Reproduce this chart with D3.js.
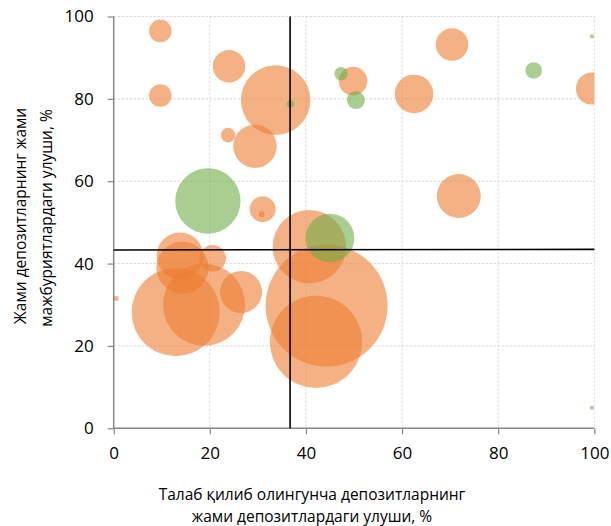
<!DOCTYPE html>
<html><head><meta charset="utf-8">
<script src="https://cdn.jsdelivr.net/npm/d3@7/dist/d3.min.js"></script>
<style>
body{margin:0;background:#fff;}
text{font-family:"Open Sans","Noto Sans",sans-serif;fill:#000;}
</style></head>
<body><svg id="c" width="611" height="526"></svg>
<script>
// Orange series
const orangeX = [9.7, 24.0, 9.7, 33.7, 23.8, 29.4, 31.0, 30.8, 49.8, 62.5, 70.4, 99.5, 71.8, 40.7, 44.3, 42.1, 13.8, 14.3, 20.6, 26.5, 18.8, 12.9, 0.5];
const orangeY = [96.5, 87.9, 80.8, 79.7, 71.2, 68.5, 53.2, 52.0, 84.3, 81.2, 93.2, 82.5, 56.4, 44.1, 29.8, 21.0, 41.9, 39.0, 41.3, 33.1, 30.0, 28.2, 31.5];
const orangeSize = [3.43, 7.1, 3.43, 32.4, 1.43, 12.7, 4.5, 0.24, 5.5, 10, 7.1, 6.9, 13, 36.2, 100, 57, 14.6, 18.2, 4.75, 11.9, 45.2, 52, 0.17];
// Green series
const greenX = [36.8, 19.6, 47.3, 50.4, 87.4, 99.5, 45.0, 99.5];
const greenY = [78.8, 55.2, 86.1, 79.7, 86.9, 95.2, 46.2, 5.0];
const greenSize = [0.37, 28.7, 1.2, 2.18, 1.85, 0.11, 15.9, 0.11];
// Threshold lines
const thresholdX = 36.7;
const thresholdY = [43.3, 43.45];
// Ticks & labels
const xTicks = [0, 20, 40, 60, 80, 100];
const yTicks = [0, 20, 40, 60, 80, 100];
const xTitle = ["Талаб қилиб олингунча депозитларнинг", "жами депозитлардаги улуши, %"];
const yTitle = ["Жами депозитларнинг жами", "мажбуриятлардаги улуши, %"];

const svg = d3.select("#c");
const L = 113.7, R = 594.3, T = 16.5, B = 428.3;
const x = d3.scaleLinear().domain([0, 100]).range([L, R]);
const y = d3.scaleLinear().domain([0, 100]).range([B, T]);
const r = d3.scaleSqrt().domain([0, 100]).range([0, 61]);

// gridlines
const grid = svg.append("g");
grid.selectAll(".gx").data(xTicks.filter(d => d > 0)).enter().append("line")
  .attr("x1", d => x(d)).attr("x2", d => x(d)).attr("y1", T).attr("y2", B)
  .attr("stroke", "#c8c8c8").attr("stroke-width", 0.8).attr("stroke-dasharray", "2,2");
grid.selectAll(".gy").data(yTicks.filter(d => d > 0)).enter().append("line")
  .attr("y1", d => y(d)).attr("y2", d => y(d)).attr("x1", L).attr("x2", R)
  .attr("stroke", "#c8c8c8").attr("stroke-width", 0.8).attr("stroke-dasharray", "2,2");

svg.append("defs").append("clipPath").attr("id", "clip")
  .append("rect").attr("x", L).attr("y", T - 1).attr("width", R - L).attr("height", B - T + 1);

const plot = svg.append("g").attr("clip-path", "url(#clip)");
const orange = orangeX.map((d, i) => ({x: d, y: orangeY[i], s: orangeSize[i]}));
const green = greenX.map((d, i) => ({x: d, y: greenY[i], s: greenSize[i]}));
plot.selectAll(".o").data(orange).enter().append("circle")
  .attr("cx", d => x(d.x)).attr("cy", d => y(d.y)).attr("r", d => r(d.s))
  .attr("fill", "#ED7D31").attr("fill-opacity", 0.6);
plot.selectAll(".g").data(green).enter().append("circle")
  .attr("cx", d => x(d.x)).attr("cy", d => y(d.y)).attr("r", d => r(d.s))
  .attr("fill", "#70AD47").attr("fill-opacity", 0.6);

// axes
const xAxis = svg.append("g").attr("transform", `translate(0,${B})`)
  .call(d3.axisBottom(x).tickValues(xTicks).tickSize(6).tickPadding(13));
const yAxis = svg.append("g").attr("transform", `translate(${L},0)`)
  .call(d3.axisLeft(y).tickValues(yTicks).tickSize(6).tickPadding(14));
[xAxis, yAxis].forEach(a => {
  a.select(".domain").attr("stroke", "#868686").attr("stroke-width", 1.5);
  a.selectAll(".tick line").attr("stroke", "#868686").attr("stroke-width", 1.2);
  a.selectAll(".tick text").style("font-size", "17px").attr("fill", "#000");
});
xAxis.select(".domain").attr("d", `M${L},0H${R}`);
xAxis.selectAll(".tick line").attr("y1", 0).attr("y2", 6);
yAxis.select(".domain").attr("d", `M0,${B}V${T}`);

// threshold lines
svg.append("line").attr("x1", x(thresholdX)).attr("x2", x(thresholdX)).attr("y1", y(100)).attr("y2", y(0))
  .attr("stroke", "#000").attr("stroke-width", 1.6);
svg.append("line").attr("x1", x(0)).attr("x2", x(100)).attr("y1", y(thresholdY[0])).attr("y2", y(thresholdY[1]))
  .attr("stroke", "#000").attr("stroke-width", 1.6);

// titles
svg.append("text").attr("x", 312).attr("y", 500).attr("text-anchor", "middle")
  .style("font-size", "15.5px").text(xTitle[0]);
svg.append("text").attr("x", 312).attr("y", 522).attr("text-anchor", "middle")
  .style("font-size", "15.5px").text(xTitle[1]);
svg.append("text").attr("transform", "translate(26,216) rotate(-90)").attr("text-anchor", "middle")
  .style("font-size", "15.5px").text(yTitle[0]);
svg.append("text").attr("transform", "translate(52,218) rotate(-90)").attr("text-anchor", "middle")
  .style("font-size", "15.5px").text(yTitle[1]);
</script></body></html>
